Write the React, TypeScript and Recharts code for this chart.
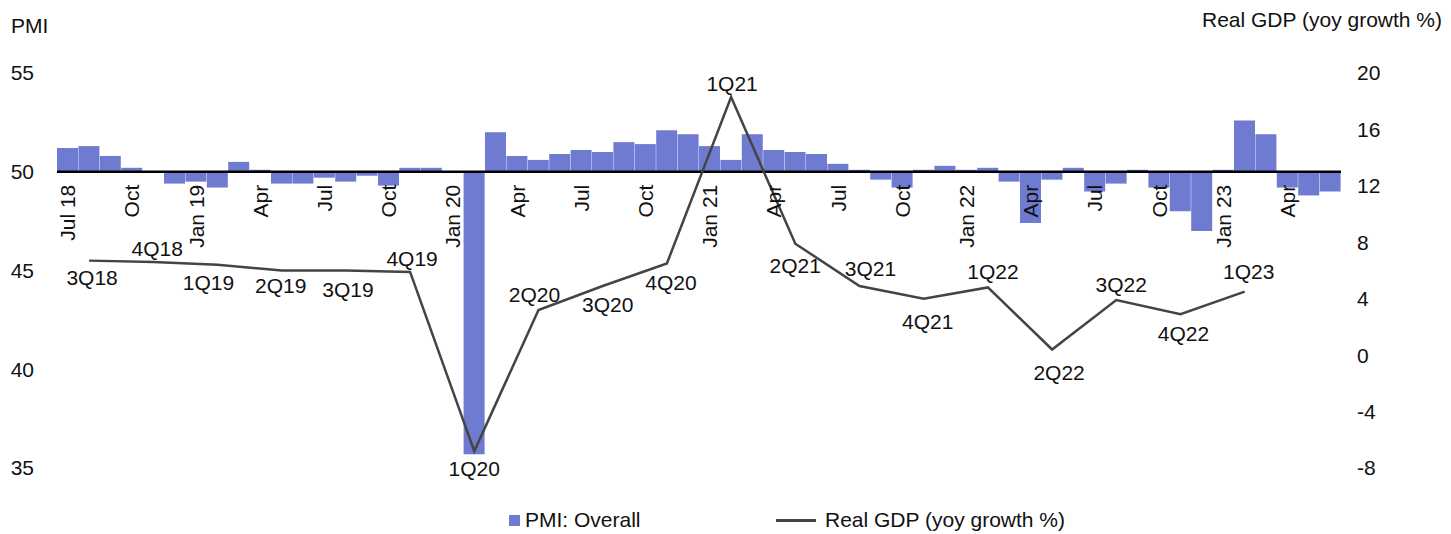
import React from 'react';
import { ComposedChart, Bar, Line, XAxis, YAxis, ReferenceLine, LabelList } from 'recharts';

const FONT = '"Liberation Sans", Arial, sans-serif';
const FS = 21;
const BAR_COLOR = '#6f7bd0';
const LINE_COLOR = '#444444';
const TEXT_COLOR = '#111111';

const MONTHS = [
  'Jul 18', 'Aug 18', 'Sep 18', 'Oct 18', 'Nov 18', 'Dec 18',
  'Jan 19', 'Feb 19', 'Mar 19', 'Apr 19', 'May 19', 'Jun 19', 'Jul 19', 'Aug 19', 'Sep 19', 'Oct 19', 'Nov 19', 'Dec 19',
  'Jan 20', 'Feb 20', 'Mar 20', 'Apr 20', 'May 20', 'Jun 20', 'Jul 20', 'Aug 20', 'Sep 20', 'Oct 20', 'Nov 20', 'Dec 20',
  'Jan 21', 'Feb 21', 'Mar 21', 'Apr 21', 'May 21', 'Jun 21', 'Jul 21', 'Aug 21', 'Sep 21', 'Oct 21', 'Nov 21', 'Dec 21',
  'Jan 22', 'Feb 22', 'Mar 22', 'Apr 22', 'May 22', 'Jun 22', 'Jul 22', 'Aug 22', 'Sep 22', 'Oct 22', 'Nov 22', 'Dec 22',
  'Jan 23', 'Feb 23', 'Mar 23', 'Apr 23', 'May 23', 'Jun 23',
];

const PMI = [
  51.2, 51.3, 50.8, 50.2, 50.0, 49.4,
  49.5, 49.2, 50.5, 50.1, 49.4, 49.4, 49.7, 49.5, 49.8, 49.3, 50.2, 50.2,
  50.0, 35.7, 52.0, 50.8, 50.6, 50.9, 51.1, 51.0, 51.5, 51.4, 52.1, 51.9,
  51.3, 50.6, 51.9, 51.1, 51.0, 50.9, 50.4, 50.1, 49.6, 49.2, 50.1, 50.3,
  50.1, 50.2, 49.5, 47.4, 49.6, 50.2, 49.0, 49.4, 50.1, 49.2, 48.0, 47.0,
  50.1, 52.6, 51.9, 49.2, 48.8, 49.0,
];

// one tick label at the first month of each quarter
const QUARTER_TICKS = [
  'Jul 18', 'Oct', 'Jan 19', 'Apr', 'Jul', 'Oct', 'Jan 20', 'Apr', 'Jul', 'Oct',
  'Jan 21', 'Apr', 'Jul', 'Oct', 'Jan 22', 'Apr', 'Jul', 'Oct', 'Jan 23', 'Apr',
];

const GDP_QUARTERS = [
  '3Q18', '4Q18', '1Q19', '2Q19', '3Q19', '4Q19', '1Q20', '2Q20', '3Q20', '4Q20',
  '1Q21', '2Q21', '3Q21', '4Q21', '1Q22', '2Q22', '3Q22', '4Q22', '1Q23',
];

const GDP = [6.7, 6.6, 6.4, 6.0, 6.0, 5.9, -6.8, 3.2, 4.9, 6.5, 18.3, 7.9, 4.9, 4.0, 4.8, 0.4, 3.9, 2.9, 4.5];

const LEFT_TICKS = [35, 40, 45, 50, 55];
const RIGHT_TICKS = [-8, -4, 0, 4, 8, 12, 16, 20];
const PMI_BASE = 50;

// label placement (style only): [dx, dy] from each GDP point
const LABEL_OFFSETS: [number, number][] = [
  [3, 17], [4, -14], [-9, 18], [-1, 15], [2, 19], [2, -13], [0, 17], [-4, -16], [5, 18], [4, 19],
  [1, -14], [0, 22], [11, -18], [4, 23], [5, -16], [7, 23], [5, -16], [3, 19], [4, -20],
];

const data = MONTHS.map((m, i) => {
  const q = (i - 1) % 3 === 0 ? (i - 1) / 3 : -1;
  const hasQ = q >= 0 && q < GDP.length;
  return {
    month: m,
    pmi: PMI[i],
    pmiRange: [Math.min(PMI_BASE, PMI[i]), Math.max(PMI_BASE, PMI[i])],
    tick: i % 3 === 0 ? QUARTER_TICKS[i / 3] : '',
    gdp: hasQ ? GDP[q] : null,
    quarter: hasQ ? GDP_QUARTERS[q] : null,
  };
});

const renderTick = (props: any) => {
  const { x, y, value } = props;
  if (!value || x == null || y == null) return null;
  return (
    <text
      x={0}
      y={0}
      transform={`translate(${x},${y + 13}) rotate(-90)`}
      textAnchor="end"
      dy="0.36em"
      fontFamily={FONT}
      fontSize={FS}
      fill={TEXT_COLOR}
    >
      {value}
    </text>
  );
};

const renderGdpLabel = (props: any) => {
  const { x, y, value } = props;
  if (!value || x == null || y == null) return null;
  const k = GDP_QUARTERS.indexOf(value);
  const [dx, dy] = LABEL_OFFSETS[k] || [0, 0];
  return (
    <text
      x={x + dx}
      y={y + dy}
      textAnchor="middle"
      dy="0.36em"
      fontFamily={FONT}
      fontSize={FS}
      fill={TEXT_COLOR}
    >
      {value}
    </text>
  );
};

export default function App() {
  return (
    <div style={{ position: 'absolute', left: 0, top: 0, width: 1451, height: 534, background: '#fff', fontFamily: FONT }}>
      <ComposedChart
        width={1451}
        height={534}
        data={data}
        margin={{ top: 73, right: 0, bottom: 66, left: 0 }}
        barCategoryGap={0}
        barGap={0}
      >
        <XAxis dataKey="month" hide />
        <YAxis
          yAxisId="left"
          orientation="left"
          width={57}
          domain={[35, 55]}
          ticks={LEFT_TICKS}
          allowDataOverflow
          axisLine={false}
          tickLine={false}
          tickSize={0}
          tickMargin={23}
          tick={{ fontSize: FS, fontFamily: FONT, fill: TEXT_COLOR }}
        />
        <YAxis
          yAxisId="right"
          orientation="right"
          width={110}
          domain={[-8, 20]}
          ticks={RIGHT_TICKS}
          allowDataOverflow
          axisLine={false}
          tickLine={false}
          tickSize={0}
          tickMargin={16}
          tick={{ fontSize: FS, fontFamily: FONT, fill: TEXT_COLOR, textAnchor: 'start' }}
        />
        <Bar yAxisId="left" dataKey="pmiRange" fill={BAR_COLOR} isAnimationActive={false} />
        <ReferenceLine yAxisId="left" y={PMI_BASE} stroke="#000" strokeWidth={2.5} />
        <Line
          yAxisId="left"
          dataKey={() => PMI_BASE}
          stroke="none"
          dot={false}
          activeDot={false}
          legendType="none"
          isAnimationActive={false}
        >
          <LabelList dataKey="tick" content={renderTick} />
        </Line>
        <Line
          yAxisId="right"
          dataKey="gdp"
          stroke={LINE_COLOR}
          strokeWidth={2.5}
          dot={false}
          activeDot={false}
          connectNulls
          isAnimationActive={false}
        >
          <LabelList dataKey="quarter" content={renderGdpLabel} />
        </Line>
      </ComposedChart>

      <div style={{ position: 'absolute', left: 11, top: 14, fontSize: FS, color: TEXT_COLOR, lineHeight: '24px' }}>PMI</div>
      <div style={{ position: 'absolute', right: 9, top: 8, fontSize: FS, color: TEXT_COLOR, lineHeight: '24px', whiteSpace: 'nowrap' }}>
        Real GDP (yoy growth %)
      </div>

      <div style={{ position: 'absolute', left: 509, top: 515, width: 11, height: 11, background: BAR_COLOR }} />
      <div style={{ position: 'absolute', left: 525, top: 508, fontSize: FS, color: TEXT_COLOR, lineHeight: '24px', whiteSpace: 'nowrap' }}>
        PMI: Overall
      </div>
      <div style={{ position: 'absolute', left: 776, top: 519, width: 40, height: 2.5, background: LINE_COLOR }} />
      <div style={{ position: 'absolute', left: 825, top: 508, fontSize: FS, color: TEXT_COLOR, lineHeight: '24px', whiteSpace: 'nowrap' }}>
        Real GDP (yoy growth %)
      </div>
    </div>
  );
}
